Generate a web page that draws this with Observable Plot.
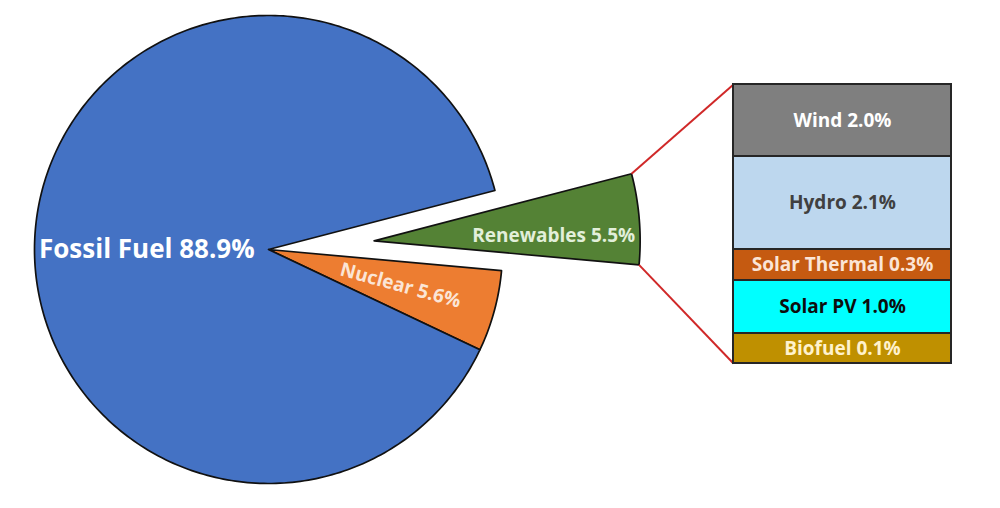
<!DOCTYPE html>
<html>
<head>
<meta charset="utf-8">
<script src="https://cdn.jsdelivr.net/npm/d3@7"></script>
<script src="https://cdn.jsdelivr.net/npm/@observablehq/plot@0.6"></script>
<style>
  html, body { margin: 0; padding: 0; background: #fff; }
  #wrap { position: relative; width: 1000px; height: 508px; overflow: hidden; }
  #wrap svg { position: absolute; left: 0; top: 0; }
</style>
</head>
<body>
<div id="wrap"></div>
<script>
// ---------------- DATA ----------------
const pieCategories = ["Fossil Fuel", "Nuclear", "Renewables"];
const pieValues = [88.9, 5.6, 5.5];

const barCategories = ["Wind", "Hydro", "Solar Thermal", "Solar PV", "Biofuel"];
const barValues = [2.0, 2.1, 0.3, 1.0, 0.1];

// ---------------- STYLES ----------------
const pieColors = {"Fossil Fuel": "#4472C4", "Nuclear": "#ED7D31", "Renewables": "#548235"};
const pieTextColors = {"Fossil Fuel": "#ffffff", "Nuclear": "#FBE5D6", "Renewables": "#E2EFDA"};
const barColors = {"Wind": "#7F7F7F", "Hydro": "#BDD7EE", "Solar Thermal": "#C55A11", "Solar PV": "#00FFFF", "Biofuel": "#BF9000"};
const barTextColors = {"Wind": "#ffffff", "Hydro": "#404040", "Solar Thermal": "#FBE5D6", "Solar PV": "#0D0D0D", "Biofuel": "#FFF2CC"};
const FONT = "'Open Sans', 'Noto Sans', sans-serif";

// ---------------- LAYOUT ----------------
const W = 1000, H = 508;
const cx = 268, cy = 249, R = 234;           // pie centre / radius
const renewStartDeg = -14.6;                  // screen angle where the renewables wedge begins
const explode = 106, rExploded = 266;         // pulled-out renewables wedge
const barLeft = 733, barRight = 951;
// the segments of the bar were hand-sized in the reference: pixel stops, bottom to top
const barPixelStops = [363, 333, 280, 249, 156, 84];

const fmt = v => v.toFixed(1) + "%";

// ---------------- BAR (right) ----------------
const barRows = barCategories.map((name, i) => ({group: "Renewables", name, value: barValues[i]})).reverse(); // bottom first
const stops = [0];
barRows.forEach(r => stops.push(stops[stops.length - 1] + r.value));

const barChart = Plot.plot({
  width: W, height: H,
  margin: 0,
  style: {background: "transparent"},
  x: {type: "band", domain: ["Renewables"], range: [barLeft, barRight], padding: 0, axis: null},
  y: {type: "linear", domain: stops, range: barPixelStops, axis: null},
  color: {type: "identity"},
  marks: [
    Plot.barY(barRows, Plot.stackY({
      x: "group", y: "value", order: null,
      fill: d => barColors[d.name],
      stroke: "#262626", strokeWidth: 2, inset: 0
    })),
    Plot.text(barRows, Plot.stackY({
      x: "group", y: "value", order: null,
      text: d => `${d.name} ${fmt(d.value)}`,
      fill: d => barTextColors[d.name],
      fontFamily: FONT, fontWeight: "bold", fontSize: 19
    }))
  ]
});

// ---------------- PIE (left) ----------------
const toRad = d => d * Math.PI / 180;
// clockwise order on screen: Renewables, Nuclear, Fossil Fuel
const pieOrder = [2, 1, 0];
const pieInput = pieOrder.map(i => ({name: pieCategories[i], value: pieValues[i]}));
const startPie = toRad(renewStartDeg + 90); // d3 pie angles run clockwise from 12 o'clock
const arcs = d3.pie().sort(null).value(d => d.value)
  .startAngle(startPie).endAngle(startPie + 2 * Math.PI)(pieInput);

function pt(ox, oy, r, a) { return {x: ox + r * Math.sin(a), y: oy - r * Math.cos(a)}; }

const slices = arcs.map(a => {
  const name = a.data.name;
  const mid = (a.startAngle + a.endAngle) / 2;
  let ox = cx, oy = cy, r = R;
  if (name === "Renewables") {
    ox = cx + explode * Math.sin(mid);
    oy = cy - explode * Math.cos(mid);
    r = rExploded;
  }
  const n = Math.max(8, Math.ceil((a.endAngle - a.startAngle) / toRad(1)));
  const pts = [{x: ox, y: oy}];
  for (let k = 0; k <= n; k++) pts.push(pt(ox, oy, r, a.startAngle + (a.endAngle - a.startAngle) * k / n));
  pts.push({x: ox, y: oy});
  return {name, value: a.data.value, mid, ox, oy, r, a0: a.startAngle, a1: a.endAngle, pts};
});

const renew = slices.find(s => s.name === "Renewables");
const nuc = slices.find(s => s.name === "Nuclear");
const fos = slices.find(s => s.name === "Fossil Fuel");

// connector lines: ends of the renewables arc -> corners of the bar
const yB = barChart.scale("y");
const xB = barChart.scale("x");
const topEnd = pt(renew.ox, renew.oy, renew.r, renew.a0);
const botEnd = pt(renew.ox, renew.oy, renew.r, renew.a1);
const connectors = [
  {x1: topEnd.x, y1: topEnd.y, x2: xB.apply("Renewables"), y2: yB.apply(stops[stops.length - 1])},
  {x1: botEnd.x, y1: botEnd.y, x2: xB.apply("Renewables"), y2: yB.apply(stops[0])}
];

// labels
const labels = [
  {text: `${fos.name} ${fmt(fos.value)}`, x: cx - 0.52 * R, y: cy, rotate: 0, size: 26, fill: pieTextColors[fos.name]},
  {text: `${nuc.name} ${fmt(nuc.value)}`, ...pt(cx, cy, 0.585 * R, nuc.mid), rotate: (nuc.mid * 180 / Math.PI) - 90, size: 19, fill: pieTextColors[nuc.name]},
  {text: `${renew.name} ${fmt(renew.value)}`, x: renew.ox + 0.675 * renew.r, y: renew.oy - 5, rotate: 0, size: 19, fill: pieTextColors[renew.name]}
];

const sliceMarks = slices.map(s => Plot.line(s.pts, {
  x: "x", y: "y", fill: pieColors[s.name], stroke: "#111", strokeWidth: 1.7, strokeLinejoin: "round"
}));

const pieChart = Plot.plot({
  width: W, height: H,
  margin: 0,
  style: {background: "transparent"},
  x: {type: "linear", domain: [0, W], range: [0, W], axis: null},
  y: {type: "linear", domain: [0, H], range: [0, H], axis: null},
  marks: [
    ...sliceMarks,
    Plot.link(connectors, {x1: "x1", y1: "y1", x2: "x2", y2: "y2", stroke: "#D02828", strokeWidth: 2}),
    ...labels.map(l => Plot.text([l], {
      x: "x", y: "y", text: "text", rotate: l.rotate, fill: l.fill,
      fontFamily: FONT, fontWeight: "bold", fontSize: l.size
    }))
  ]
});

const wrap = document.getElementById("wrap");
wrap.appendChild(pieChart);
wrap.appendChild(barChart);
</script>
</body>
</html>
